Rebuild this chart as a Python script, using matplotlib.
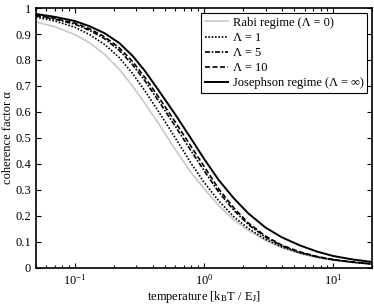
import numpy as np
import matplotlib
matplotlib.use("Agg")
import matplotlib.pyplot as plt

# values
temperature = [0.05, 0.07, 0.1, 0.13, 0.17, 0.22, 0.28, 0.35, 0.45, 0.6, 0.8,
               1.0, 1.3, 1.7, 2.2, 3.0, 4.0, 5.5, 7.5, 10.0, 14.0, 20.0]
alpha_rabi = [0.946, 0.928, 0.898, 0.866, 0.822, 0.765, 0.700, 0.632, 0.552, 0.455, 0.365,
              0.305, 0.240, 0.185, 0.145, 0.105, 0.078, 0.056, 0.040, 0.030, 0.021, 0.015]
alpha_1 = [0.965, 0.950, 0.926, 0.898, 0.860, 0.810, 0.748, 0.680, 0.598, 0.500, 0.400,
           0.330, 0.258, 0.197, 0.152, 0.110, 0.081, 0.058, 0.042, 0.031, 0.022, 0.015]
alpha_5 = [0.970, 0.957, 0.938, 0.914, 0.882, 0.838, 0.782, 0.719, 0.639, 0.545, 0.448,
           0.375, 0.292, 0.222, 0.167, 0.118, 0.085, 0.060, 0.043, 0.032, 0.023, 0.015]
alpha_10 = [0.972, 0.960, 0.942, 0.920, 0.889, 0.848, 0.794, 0.732, 0.654, 0.561, 0.465,
            0.391, 0.304, 0.231, 0.173, 0.122, 0.088, 0.062, 0.044, 0.032, 0.023, 0.016]
alpha_jos = [0.977, 0.966, 0.950, 0.930, 0.903, 0.866, 0.816, 0.757, 0.680, 0.590, 0.495,
             0.420, 0.338, 0.268, 0.210, 0.155, 0.118, 0.087, 0.063, 0.046, 0.033, 0.023]

labels = ['Rabi regime (Λ = 0)', 'Λ = 1', 'Λ = 5', 'Λ = 10',
          'Josephson regime (Λ = ∞)']

plt.rcParams['font.family'] = ['Liberation Serif', 'DejaVu Serif']
plt.rcParams['mathtext.fontset'] = 'stix'
plt.rcParams['font.size'] = 9

fig = plt.figure(figsize=(3.74, 3.08), dpi=100)
ax = fig.add_axes([0.096, 0.130, 0.899, 0.844])

ax.plot(temperature, alpha_rabi, color='#c8c8c8', lw=1.2, label=labels[0])
ax.plot(temperature, alpha_1, color='black', lw=1.2, ls=(0, (1, 1)), label=labels[1])
ax.plot(temperature, alpha_5, color='black', lw=1.2, ls=(0, (3, 1, 1, 1)), label=labels[2])
ax.plot(temperature, alpha_10, color='black', lw=1.2, ls=(0, (3, 1.5)), label=labels[3])
ax.plot(temperature, alpha_jos, color='black', lw=1.4, label=labels[4])

ax.set_xscale('log')
ax.set_xlim(0.05, 20)
ax.set_ylim(0, 1)
ax.set_yticks(np.arange(0, 1.01, 0.1))
ax.set_yticklabels(['0', '0.1', '0.2', '0.3', '0.4', '0.5', '0.6', '0.7', '0.8', '0.9', '1'])
ax.tick_params(which='both', direction='in', top=True, right=True, width=0.8)
ax.tick_params(which='major', length=3.5)
ax.tick_params(which='minor', length=2)
for s in ax.spines.values():
    s.set_linewidth(1.2)

ax.set_xlabel(r'temperature [k$_\mathrm{B}$T / E$_\mathrm{J}$]', labelpad=1)
ax.set_ylabel('coherence factor α', labelpad=1)

leg = ax.legend(loc='upper right', fancybox=False, edgecolor='black',
                framealpha=1, handlelength=1.8, handletextpad=0.4,
                labelspacing=0.25, borderpad=0.3, borderaxespad=0.4)
leg.get_frame().set_linewidth(0.8)

fig.savefig('out.png', dpi=100)
